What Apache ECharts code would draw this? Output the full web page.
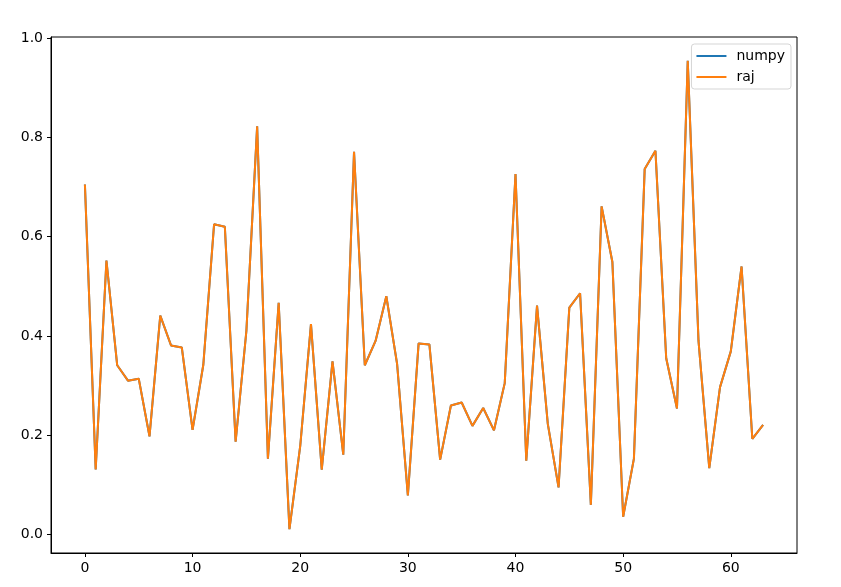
<!DOCTYPE html>
<html>
<head>
<meta charset="utf-8">
<script src="https://cdn.jsdelivr.net/npm/echarts@6/dist/echarts.min.js"></script>
<style>
  html, body { margin: 0; padding: 0; background: #fff; }
  #chart { width: 841px; height: 587px; }
</style>
</head>
<body>
<div id="chart"></div>
<script>
  // values, index 0..63
  var numpyVals = [
    0.705, 0.131, 0.552, 0.341, 0.310, 0.314, 0.198, 0.441, 0.381, 0.377,
    0.211, 0.342, 0.625, 0.620, 0.187, 0.410, 0.822, 0.153, 0.467, 0.011,
    0.178, 0.424, 0.131, 0.349, 0.161, 0.771, 0.341, 0.390, 0.480, 0.344,
    0.079, 0.385, 0.383, 0.151, 0.260, 0.266, 0.219, 0.255, 0.210, 0.305,
    0.726, 0.149, 0.461, 0.223, 0.095, 0.457, 0.486, 0.060, 0.661, 0.549,
    0.036, 0.153, 0.736, 0.773, 0.355, 0.254, 0.954, 0.390, 0.134, 0.297,
    0.369, 0.540, 0.193, 0.221
  ]
  var rajVals = [
    0.705, 0.131, 0.552, 0.341, 0.310, 0.314, 0.198, 0.441, 0.381, 0.377,
    0.211, 0.342, 0.625, 0.620, 0.187, 0.410, 0.822, 0.153, 0.467, 0.011,
    0.178, 0.424, 0.131, 0.349, 0.161, 0.771, 0.341, 0.390, 0.480, 0.344,
    0.079, 0.385, 0.383, 0.151, 0.260, 0.266, 0.219, 0.255, 0.210, 0.305,
    0.726, 0.149, 0.461, 0.223, 0.095, 0.457, 0.486, 0.060, 0.661, 0.549,
    0.036, 0.153, 0.736, 0.773, 0.355, 0.254, 0.954, 0.390, 0.134, 0.297,
    0.369, 0.540, 0.193, 0.221
  ]
  var xTicks = [0, 10, 20, 30, 40, 50, 60]
  var yTicks = [0, 0.2, 0.4, 0.6, 0.8, 1.0]

  function toPairs (vals) {
    return vals.map(function (v, i) { return [i, v] })
  }

  var chart = echarts.init(document.getElementById('chart'))
  var font = 'DejaVu Sans'
  var axisLine = { show: true, onZero: false, lineStyle: { color: '#000', width: 1 } }

  var option = {
    animation: false,
    backgroundColor: '#fff',
    textStyle: { fontFamily: font },
    grid: {
      left: 51, right: 44, top: 37, bottom: 34,
      show: true, borderColor: '#000', borderWidth: 1, backgroundColor: 'transparent'
    },
    legend: {
      right: 50,
      top: 44,
      orient: 'vertical',
      padding: [5, 6, 5, 5],
      itemGap: 7,
      itemWidth: 30,
      itemHeight: 2,
      icon: 'rect',
      borderColor: '#d5d5d5',
      borderWidth: 1,
      borderRadius: 3,
      backgroundColor: 'rgba(255,255,255,0.8)',
      textStyle: { fontFamily: font, fontSize: 14, color: '#000', padding: [0, 0, 0, 5] },
      data: ['numpy', 'raj']
    },
    xAxis: {
      type: 'value',
      min: -3.15,
      max: 66.15,
      splitLine: { show: false },
      axisLine: axisLine,
      axisTick: { show: true, length: 4, inside: false, customValues: xTicks, lineStyle: { color: '#000' } },
      axisLabel: { customValues: xTicks, color: '#000', fontSize: 14, fontFamily: font, margin: 8 }
    },
    yAxis: {
      type: 'value',
      min: -0.037,
      max: 1.002,
      splitLine: { show: false },
      axisLine: axisLine,
      axisTick: { show: true, length: 4, inside: false, customValues: yTicks, lineStyle: { color: '#000' } },
      axisLabel: {
        customValues: yTicks, color: '#000', fontSize: 14, fontFamily: font, margin: 8,
        formatter: function (v) { return v.toFixed(1) }
      }
    },
    series: [
      {
        name: 'numpy',
        type: 'line',
        data: toPairs(numpyVals),
        showSymbol: false,
        symbol: 'none',
        color: '#1f77b4',
        lineStyle: { width: 2, color: '#1f77b4' }
      },
      {
        name: 'raj',
        type: 'line',
        data: toPairs(rajVals),
        showSymbol: false,
        symbol: 'none',
        color: '#ff7f0e',
        lineStyle: { width: 2, color: '#ff7f0e' }
      }
    ]
  }
  chart.setOption(option)
</script>
</body>
</html>
